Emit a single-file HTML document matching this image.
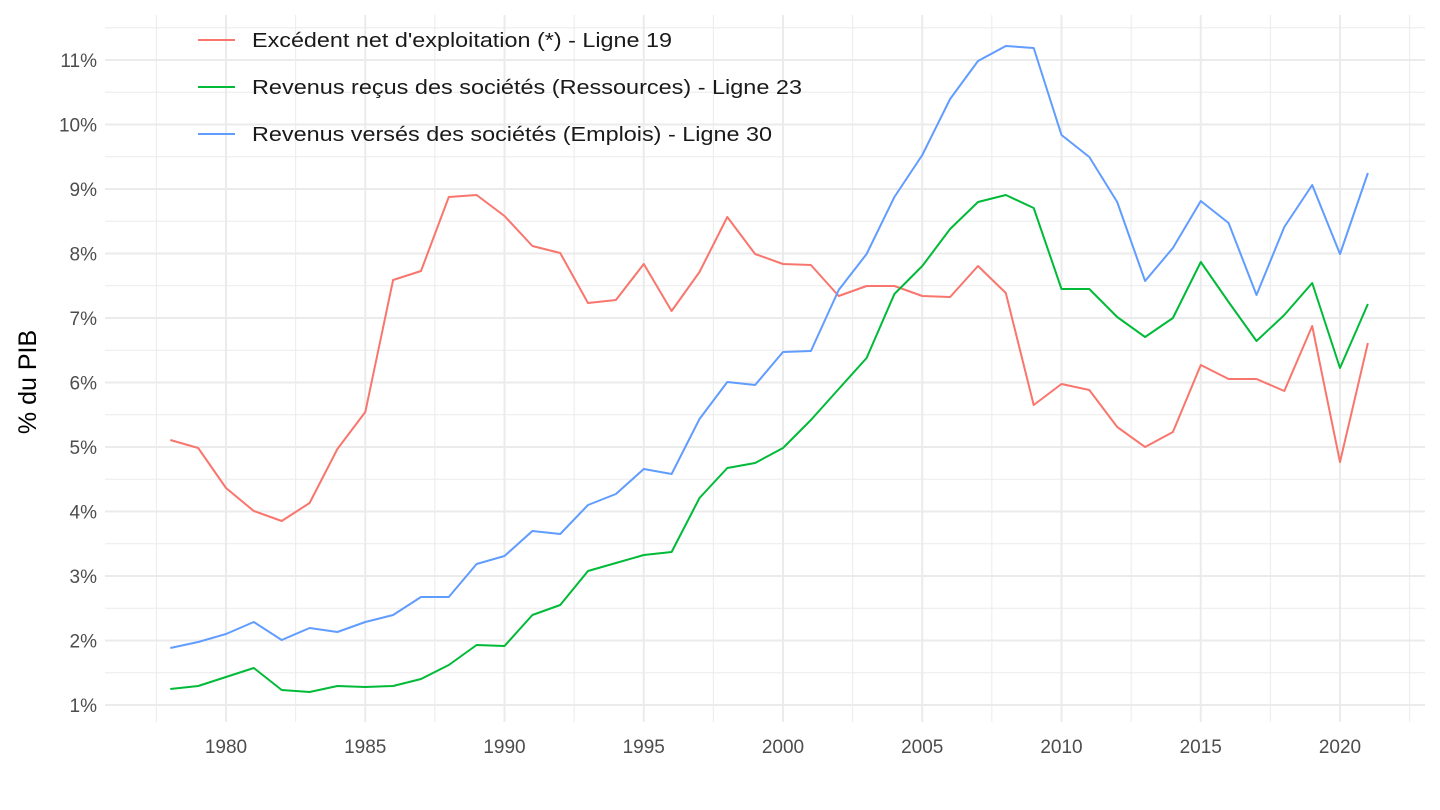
<!DOCTYPE html>
<html><head><meta charset="utf-8"><style>
html,body{margin:0;padding:0;background:#fff}
svg{display:block;font-family:"Liberation Sans",sans-serif}
</style></head><body>
<svg width="1440" height="810" viewBox="0 0 1440 810">
<g id="grid"></g>
<g id="lines"></g>
<g font-size="19" fill="#4d4d4d" id="labels"></g>
<text x="36" y="382" font-size="25" fill="#000" text-anchor="middle" transform="rotate(-90 36 382)">% du PIB</text>
<g font-size="20" fill="#1a1a1a">
<line x1="198" y1="40" x2="235" y2="40" stroke="#F8766D" stroke-width="2"/>
<text x="252" y="47" textLength="420" lengthAdjust="spacingAndGlyphs">Excédent net d'exploitation (*) - Ligne 19</text>
<line x1="198" y1="87" x2="235" y2="87" stroke="#00BA38" stroke-width="2"/>
<text x="252" y="94" textLength="550" lengthAdjust="spacingAndGlyphs">Revenus reçus des sociétés (Ressources) - Ligne 23</text>
<line x1="198" y1="134" x2="235" y2="134" stroke="#619CFF" stroke-width="2"/>
<text x="252" y="141" textLength="520" lengthAdjust="spacingAndGlyphs">Revenus versés des sociétés (Emplois) - Ligne 30</text>
</g>
</svg>
<script>
const NS="http://www.w3.org/2000/svg";
function el(p,t,a,txt){const e=document.createElementNS(NS,t);for(const k in a)e.setAttribute(k,a[k]);if(txt)e.textContent=txt;document.getElementById(p).appendChild(e);}
const X=y=>226+(y-1980)*27.85, Y=v=>705-(v-1)*64.5;
const L=105,R=1425,T=15,B=722;
for(let v=0.5;v<=11.5;v+=0.5){const y=Y(v);if(y<T||y>B)continue;const maj=Math.abs(v-Math.round(v))<0.01;
el("grid","line",{x1:L,x2:R,y1:y,y2:y,stroke:"#ebebeb","stroke-width":maj?2:1});
if(maj&&v>=1)el("labels","text",{x:97,y:y+7,"text-anchor":"end"},v+"%");}
for(let yr=1977.5;yr<=2023;yr+=2.5){const x=X(yr);const maj=yr%5===0;
el("grid","line",{x1:x,x2:x,y1:T,y2:B,stroke:"#ebebeb","stroke-width":maj?2:1});
if(maj)el("labels","text",{x:x,y:753,"text-anchor":"middle"},yr);}
const red=[440,448,488,511,521,503,449,412,280,271,197,195,216,246,253,303,300,264,311,272,217,254,264,265,296,286,286,296,297,266,293,405,384,390,427,447,432,365,379,379,391,326,462,343];
const green=[689,686,677,668,690,692,686,687,686,679,665,645,646,615,605,571,563,555,552,498,468,463,448,420,389,358,294,266,229,202,195,208,289,289,317,337,318,262,302,341,315,283,368,304];
const blue=[648,642,634,622,640,628,632,622,615,597,597,564,556,531,534,505,494,469,474,419,382,385,352,351,290,254,197,155,99,61,46,48,135,157,202,281,248,201,223,295,227,185,254,173];
[[red,"#F8766D"],[green,"#00BA38"],[blue,"#619CFF"]].forEach(([d,c])=>{
el("lines","polyline",{points:d.map((y,i)=>X(1978+i).toFixed(1)+","+y).join(" "),fill:"none",stroke:c,"stroke-width":2,"stroke-linejoin":"round"});});
</script>
</body></html>
